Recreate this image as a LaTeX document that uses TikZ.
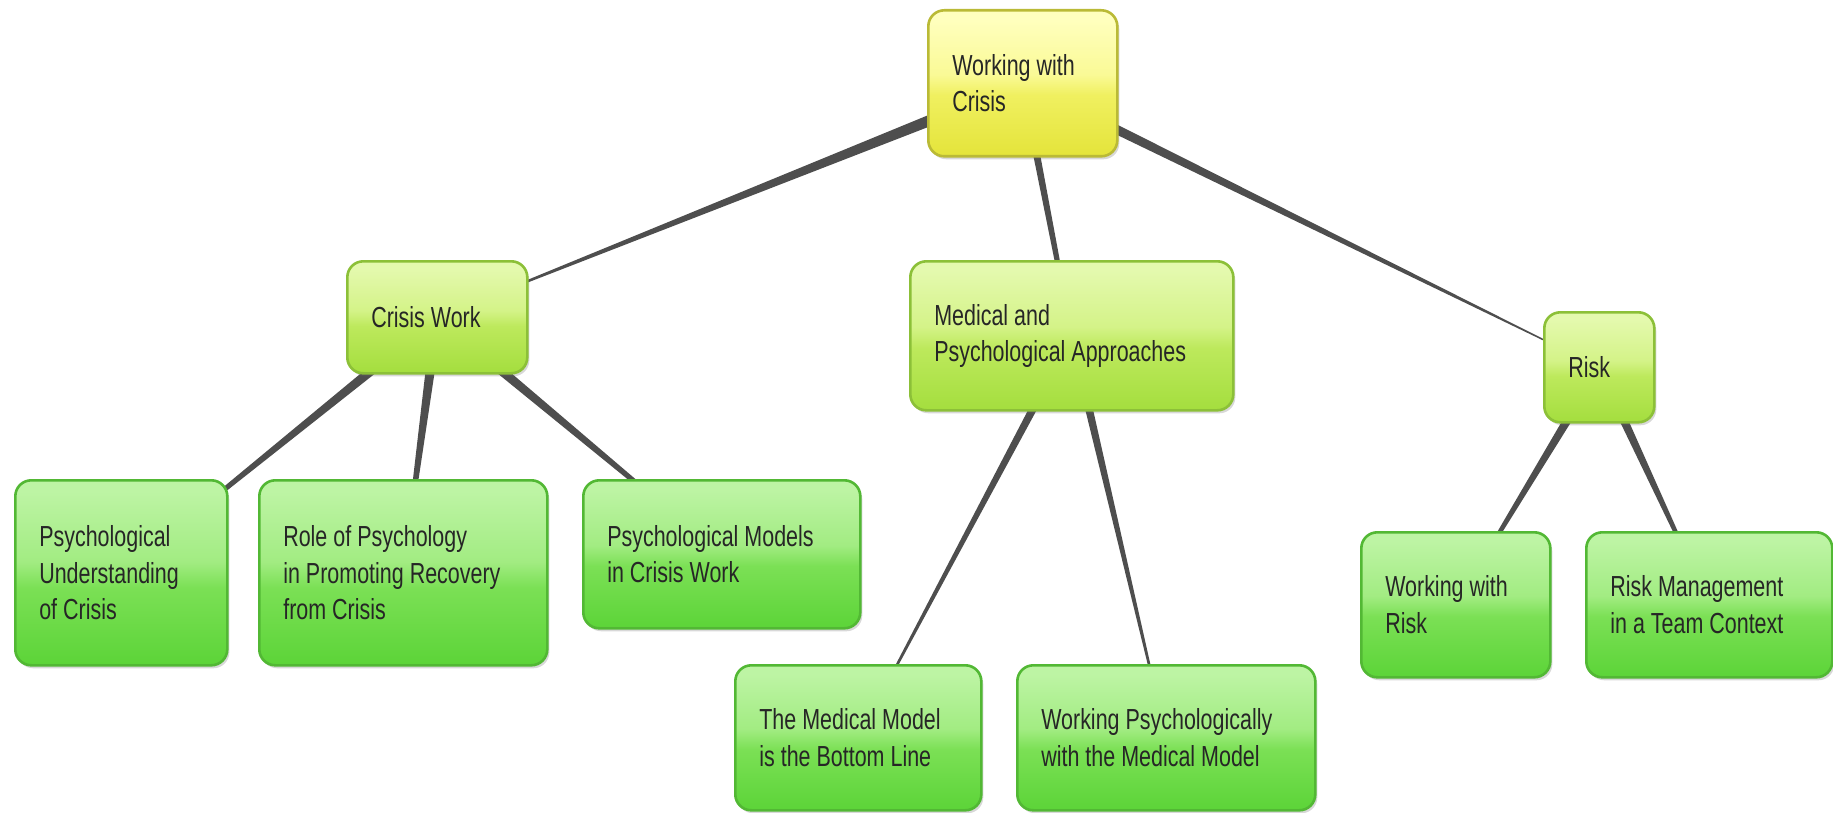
\documentclass[tikz,border=0pt]{standalone}
\usepackage{fontspec}
\setmainfont{Liberation Sans}[FakeStretch=0.74]
\usetikzlibrary{calc,shadows,backgrounds}

% box colours
\definecolor{txt}{HTML}{262626}
\definecolor{conn}{HTML}{4E4E4E}
\definecolor{leafline}{HTML}{52B834}
\definecolor{leafA}{HTML}{5CD438}
\definecolor{leafB}{HTML}{7BE055}
\definecolor{leafC}{HTML}{A2EC82}
\definecolor{leafD}{HTML}{BDF4A4}
\definecolor{midline}{HTML}{8CC038}
\definecolor{midA}{HTML}{A4DE3E}
\definecolor{midB}{HTML}{BDE95C}
\definecolor{midC}{HTML}{D4F388}
\definecolor{midD}{HTML}{E4F9AE}
\definecolor{rootline}{HTML}{BABA36}
\definecolor{rootA}{HTML}{E4E43A}
\definecolor{rootB}{HTML}{F0F060}
\definecolor{rootC}{HTML}{FAFA96}
\definecolor{rootD}{HTML}{FFFFBE}

% glossy vertical fills (the box spans 25bp..75bp)
\pgfdeclareverticalshading{leafshade}{100bp}{color(0bp)=(leafA); color(25bp)=(leafA); color(46bp)=(leafB); color(53bp)=(leafC); color(72bp)=(leafD); color(100bp)=(leafD)}
\pgfdeclareverticalshading{midshade}{100bp}{color(0bp)=(midA); color(25bp)=(midA); color(46bp)=(midB); color(53bp)=(midC); color(72bp)=(midD); color(100bp)=(midD)}
\pgfdeclareverticalshading{rootshade}{100bp}{color(0bp)=(rootA); color(25bp)=(rootA); color(46bp)=(rootB); color(53bp)=(rootC); color(72bp)=(rootD); color(100bp)=(rootD)}

% narrower word spaces inside the boxes
\newcommand\tightspaces{\spaceskip=6pt plus 1pt minus 1pt\relax\xspaceskip=\spaceskip}

\tikzset{
  topic/.style={draw, rounded corners=16pt, line width=2.6pt, anchor=north west,
    inner xsep=24pt, inner ysep=0pt, align=left, text=txt,
    font=\fontsize{29}{36.5}\selectfont,
    execute at begin node=\tightspaces,
    drop shadow={shadow xshift=2pt, shadow yshift=-3pt, opacity=0.25, fill=black!60}},
  leafbox/.style={topic, draw=leafline, shading=leafshade},
  midbox/.style={topic, draw=midline, shading=midshade},
  rootbox/.style={topic, draw=rootline, shading=rootshade},
}

% tapered connector: parent, child, half width at parent, half width at child
\newcommand\taper[4]{%
  \fill[conn] ($(#1)!#3!90:(#2)$) -- ($(#2)!#4!-90:(#1)$)
    -- ($(#2)!#4!90:(#1)$) -- ($(#1)!#3!-90:(#2)$) -- cycle;}

\begin{document}
\begin{tikzpicture}[x=1pt,y=-1pt]
\useasboundingbox (0,0) rectangle (1833,813);

% root
\node[rootbox, text width=141pt, minimum height=146pt] (root) at (927,9) {Working with\\Crisis};

% first level
\node[midbox, text width=132pt, minimum height=112pt] (cw) at (346,260) {Crisis Work};
\node[midbox, text width=275pt, minimum height=149pt] (med) at (909,260) {Medical and\\Psychological Approaches};
\node[midbox, text width=62pt, minimum height=110pt] (risk) at (1543,311) {Risk};

% leaves under Crisis Work
\node[leafbox, text width=164pt, minimum height=185pt] (pu) at (14,479) {Psychological\\Understanding\\of Crisis};
\node[leafbox, text width=240pt, minimum height=185pt] (role) at (258,479) {Role of Psychology\\in Promoting Recovery\\from Crisis};
\node[leafbox, text width=229pt, minimum height=148pt] (pm) at (582,479) {Psychological Models\\in Crisis Work};

% leaves under Medical and Psychological Approaches
\node[leafbox, text width=198pt, minimum height=145pt] (mm) at (734,664) {The Medical Model\\is the Bottom Line};
\node[leafbox, text width=250pt, minimum height=145pt] (wp) at (1016,664) {Working Psychologically\\with the Medical Model};

% leaves under Risk
\node[leafbox, text width=141pt, minimum height=145pt] (wr) at (1360,531) {Working with\\Risk};
\node[leafbox, text width=198pt, minimum height=145pt] (rm) at (1585,531) {Risk Management\\in a Team Context};

\begin{pgfonlayer}{background}
  \fill[white] (0,0) rectangle (1833,813);
  \taper{root}{cw}{6.5pt}{0.3pt}
  \taper{root}{med}{4pt}{2pt}
  \taper{root}{risk}{5.5pt}{0.2pt}
  \taper{cw}{pu}{5.5pt}{1pt}
  \taper{cw}{role}{5.5pt}{1.2pt}
  \taper{cw}{pm}{5.5pt}{1.2pt}
  \taper{med}{mm}{4.5pt}{0.6pt}
  \taper{med}{wp}{4.5pt}{0.6pt}
  \taper{risk}{wr}{5pt}{1pt}
  \taper{risk}{rm}{5pt}{1pt}
\end{pgfonlayer}
\end{tikzpicture}
\end{document}
